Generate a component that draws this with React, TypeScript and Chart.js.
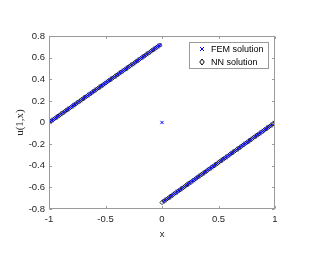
import React, { useEffect, useRef } from "react";
import { Chart, registerables } from "chart.js";

Chart.register(...registerables);

const xValues = [
  -1, -0.98, -0.96, -0.94, -0.92, -0.9, -0.88, -0.86, -0.84, -0.82,
  -0.8, -0.78, -0.76, -0.74, -0.72, -0.7, -0.68, -0.66, -0.64, -0.62,
  -0.6, -0.58, -0.56, -0.54, -0.52, -0.5, -0.48, -0.46, -0.44, -0.42,
  -0.4, -0.38, -0.36, -0.34, -0.32, -0.3, -0.28, -0.26, -0.24, -0.22,
  -0.2, -0.18, -0.16, -0.14, -0.12, -0.1, -0.08, -0.06, -0.04, -0.02,
  0,
  0.02, 0.04, 0.06, 0.08, 0.1, 0.12, 0.14, 0.16, 0.18, 0.2,
  0.22, 0.24, 0.26, 0.28, 0.3, 0.32, 0.34, 0.36, 0.38, 0.4,
  0.42, 0.44, 0.46, 0.48, 0.5, 0.52, 0.54, 0.56, 0.58, 0.6,
  0.62, 0.64, 0.66, 0.68, 0.7, 0.72, 0.74, 0.76, 0.78, 0.8,
  0.82, 0.84, 0.86, 0.88, 0.9, 0.92, 0.94, 0.96, 0.98, 1,
];

const femValues = [
  0, 0.015, 0.029, 0.044, 0.058, 0.073, 0.088, 0.102, 0.117, 0.131,
  0.146, 0.161, 0.175, 0.19, 0.204, 0.219, 0.234, 0.248, 0.263, 0.277,
  0.292, 0.307, 0.321, 0.336, 0.35, 0.365, 0.38, 0.394, 0.409, 0.423,
  0.438, 0.453, 0.467, 0.482, 0.496, 0.511, 0.526, 0.54, 0.555, 0.569,
  0.584, 0.599, 0.613, 0.628, 0.642, 0.657, 0.672, 0.686, 0.701, 0.715,
  0,
  -0.725, -0.71, -0.696, -0.681, -0.666, -0.651, -0.636, -0.622, -0.607, -0.592,
  -0.577, -0.562, -0.548, -0.533, -0.518, -0.503, -0.488, -0.474, -0.459, -0.444,
  -0.429, -0.414, -0.4, -0.385, -0.37, -0.355, -0.34, -0.326, -0.311, -0.296,
  -0.281, -0.266, -0.252, -0.237, -0.222, -0.207, -0.192, -0.178, -0.163, -0.148,
  -0.133, -0.118, -0.104, -0.089, -0.074, -0.059, -0.044, -0.03, -0.015, 0,
];

const nnValues = [
  0, 0.015, 0.029, 0.044, 0.058, 0.073, 0.088, 0.102, 0.117, 0.131,
  0.146, 0.161, 0.175, 0.19, 0.204, 0.219, 0.234, 0.248, 0.263, 0.277,
  0.292, 0.307, 0.321, 0.336, 0.35, 0.365, 0.38, 0.394, 0.409, 0.423,
  0.438, 0.453, 0.467, 0.482, 0.496, 0.511, 0.526, 0.54, 0.555, 0.569,
  0.584, 0.599, 0.613, 0.628, 0.642, 0.657, 0.672, 0.686, 0.701, 0.715,
  -0.74,
  -0.725, -0.71, -0.696, -0.681, -0.666, -0.651, -0.636, -0.622, -0.607, -0.592,
  -0.577, -0.562, -0.548, -0.533, -0.518, -0.503, -0.488, -0.474, -0.459, -0.444,
  -0.429, -0.414, -0.4, -0.385, -0.37, -0.355, -0.34, -0.326, -0.311, -0.296,
  -0.281, -0.266, -0.252, -0.237, -0.222, -0.207, -0.192, -0.178, -0.163, -0.148,
  -0.133, -0.118, -0.104, -0.089, -0.074, -0.059, -0.044, -0.03, -0.015, 0,
];

const xTicks = [-1, -0.5, 0, 0.5, 1];
const yTicks = [-0.8, -0.6, -0.4, -0.2, 0, 0.2, 0.4, 0.6, 0.8];
const seriesLabels = ["FEM solution", "NN solution"];
const xTitle = "x";
const yTitle = "u(1,x)";

const AXIS_COLOR = "#262626";
const LINE_COLOR = "#9a9a9a";

const matlabPlugin = {
  id: "matlabAxes",
  afterDraw(chart: any) {
    const { ctx, chartArea } = chart;
    const { left, right, top, bottom } = chartArea;
    const xs = chart.scales.x;
    const ys = chart.scales.y;
    ctx.save();
    ctx.strokeStyle = LINE_COLOR;
    ctx.lineWidth = 1;
    const L = Math.round(left) + 0.5;
    const R = Math.round(right) - 0.5;
    const T = Math.round(top) + 0.5;
    const B = Math.round(bottom) - 0.5;
    ctx.strokeRect(L, T, R - L, B - T);
    const tl = 2.5;
    ctx.beginPath();
    xTicks.forEach((v) => {
      const px = Math.round(xs.getPixelForValue(v)) + 0.5;
      ctx.moveTo(px, B);
      ctx.lineTo(px, B - tl);
      ctx.moveTo(px, T);
      ctx.lineTo(px, T + tl);
    });
    yTicks.forEach((v) => {
      const py = Math.round(ys.getPixelForValue(v)) + 0.5;
      ctx.moveTo(L, py);
      ctx.lineTo(L + tl, py);
      ctx.moveTo(R, py);
      ctx.lineTo(R - tl, py);
    });
    ctx.stroke();

    // legend
    const lx = 189.5, ly = 42.5, lw = 79, lh = 26;
    ctx.fillStyle = "#ffffff";
    ctx.fillRect(lx, ly, lw, lh);
    ctx.strokeStyle = LINE_COLOR;
    ctx.strokeRect(lx, ly, lw, lh);
    ctx.font = "9px 'Liberation Sans', Arial, sans-serif";
    ctx.textBaseline = "middle";
    ctx.textAlign = "left";
    const rows = [49, 62];
    ctx.strokeStyle = "#0000ff";
    ctx.lineWidth = 1;
    ctx.beginPath();
    const mx = 202, r = 2;
    ctx.moveTo(mx - r, rows[0] - r);
    ctx.lineTo(mx + r, rows[0] + r);
    ctx.moveTo(mx + r, rows[0] - r);
    ctx.lineTo(mx - r, rows[0] + r);
    ctx.stroke();
    ctx.strokeStyle = "#000000";
    ctx.beginPath();
    const d = 3;
    ctx.moveTo(mx, rows[1] - d);
    ctx.lineTo(mx + d * 0.75, rows[1]);
    ctx.lineTo(mx, rows[1] + d);
    ctx.lineTo(mx - d * 0.75, rows[1]);
    ctx.closePath();
    ctx.stroke();
    ctx.fillStyle = "#000000";
    ctx.fillText(seriesLabels[0], 211, rows[0] + 0.5);
    ctx.fillText(seriesLabels[1], 211, rows[1] + 0.5);
    ctx.restore();
  },
};

export default function App() {
  const canvasRef = useRef<HTMLCanvasElement | null>(null);

  useEffect(() => {
    const canvas = canvasRef.current;
    if (!canvas) return;
    const femData = xValues.map((x, i) => ({ x, y: femValues[i] }));
    const nnData = xValues.map((x, i) => ({ x, y: nnValues[i] }));
    const chart = new Chart(canvas, {
      type: "scatter",
      data: {
        datasets: [
          {
            label: seriesLabels[0],
            data: femData,
            pointStyle: "crossRot",
            pointRadius: 2.3,
            borderColor: "#0000ff",
            backgroundColor: "#0000ff",
            borderWidth: 1,
            order: 0,
          },
          {
            label: seriesLabels[1],
            data: nnData,
            pointStyle: "rectRot",
            pointRadius: 2.2,
            borderColor: "#000000",
            backgroundColor: "rgba(0,0,0,0)",
            borderWidth: 0.8,
            order: 1,
          },
        ],
      },
      options: {
        responsive: false,
        animation: false,
        layout: { padding: { left: 14, right: 39, top: 36, bottom: 19 } },
        plugins: {
          legend: { display: false },
          tooltip: { enabled: false },
        },
        scales: {
          x: {
            type: "linear",
            min: -1,
            max: 1,
            afterBuildTicks: (s: any) => {
              s.ticks = xTicks.map((v) => ({ value: v }));
            },
            afterFit: (s: any) => {
              s.height = 31;
            },
            grid: { display: false, drawTicks: false },
            border: { display: false },
            ticks: {
              color: AXIS_COLOR,
              font: { family: "'Liberation Sans', Arial, sans-serif", size: 9.5 },
              padding: 5,
              maxRotation: 0,
              callback: (v: any) => String(v),
            },
            title: {
              display: true,
              text: xTitle,
              color: AXIS_COLOR,
              font: { family: "'Liberation Sans', Arial, sans-serif", size: 9.5 },
              padding: { top: 3, bottom: 0 },
            },
          },
          y: {
            type: "linear",
            min: -0.8,
            max: 0.8,
            afterBuildTicks: (s: any) => {
              s.ticks = yTicks.map((v) => ({ value: v }));
            },
            afterFit: (s: any) => {
              s.width = 35;
            },
            grid: { display: false, drawTicks: false },
            border: { display: false },
            ticks: {
              color: AXIS_COLOR,
              font: { family: "'Liberation Sans', Arial, sans-serif", size: 9.5 },
              padding: 4,
              callback: (v: any) => String(Math.round(v * 10) / 10),
            },
            title: {
              display: true,
              text: yTitle,
              color: AXIS_COLOR,
              font: { family: "'Liberation Serif', 'Times New Roman', serif", size: 11 },
              padding: { top: 0, bottom: 2 },
            },
          },
        },
      },
      plugins: [matlabPlugin],
    });
    return () => chart.destroy();
  }, []);

  return (
    <div style={{ position: "fixed", left: 0, top: 0, width: 314, height: 259, background: "#ffffff" }}>
      <canvas ref={canvasRef} width={314} height={259} style={{ width: 314, height: 259, display: "block" }} />
    </div>
  );
}
